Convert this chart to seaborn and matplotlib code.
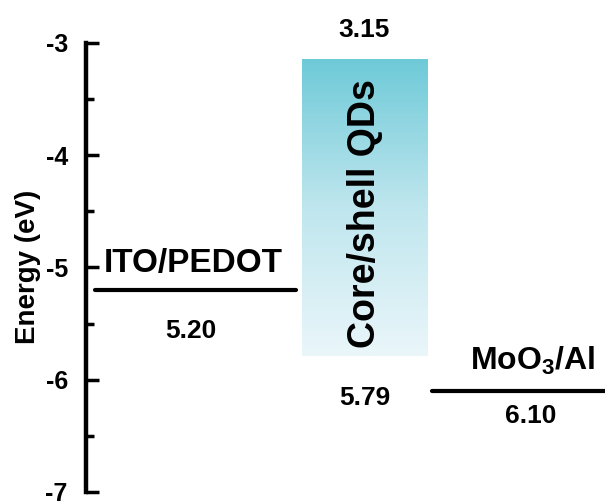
import numpy as np
import pandas as pd
import seaborn as sns
import matplotlib.pyplot as plt
from matplotlib.colors import LinearSegmentedColormap

# energy levels (eV, below vacuum)
electrodes = ["ITO/PEDOT", "MoO$_3$/Al"]
electrode_levels = [5.20, 6.10]
qd_name = "Core/shell QDs"
qd_cb = 3.15
qd_vb = 5.79
yticks = [-3, -4, -5, -6, -7]

sns.set_style("ticks")
plt.rcParams["font.family"] = ["Liberation Sans", "DejaVu Sans"]
plt.rcParams["font.weight"] = "bold"
plt.rcParams["text.color"] = "black"
plt.rcParams["mathtext.fontset"] = "custom"
plt.rcParams["mathtext.default"] = "bf"
plt.rcParams["mathtext.bf"] = "Liberation Sans:bold"
plt.rcParams["mathtext.rm"] = "Liberation Sans:bold"

fig = plt.figure(figsize=(6.05, 5.04), dpi=100)
ax = fig.add_axes([0.142, 0.024, 0.858, 0.891])

# electrode levels as flat segments
seg_x = [(0.017, 0.405), (0.667, 1.0)]
rows = []
for name, lvl, (x0, x1) in zip(electrodes, electrode_levels, seg_x):
    rows.append({"name": name, "x": x0, "E": -lvl})
    rows.append({"name": name, "x": x1, "E": -lvl})
df = pd.DataFrame(rows)
sns.lineplot(data=df, x="x", y="E", units="name", estimator=None,
             color="black", lw=3, ax=ax, legend=False)

# QD gradient box
cmap = LinearSegmentedColormap.from_list("qd", ["#6ecad8", "#bfe6ee", "#eaf6fa"])
grad = np.linspace(0, 1, 256).reshape(-1, 1)
qx0, qx1 = 0.416, 0.657
ax.imshow(grad, cmap=cmap, aspect="auto", extent=[qx0, qx1, -qd_vb, -qd_cb],
          origin="upper", zorder=0)

xc = (qx0 + qx1) / 2
ax.text(xc, -qd_cb + 0.2, f"{qd_cb:.2f}", ha="center", va="baseline",
        fontsize=19, fontweight="bold", clip_on=False)
ax.text(xc, -qd_vb - 0.27, f"{qd_vb:.2f}", ha="center", va="top",
        fontsize=19, fontweight="bold")
ax.text(xc + 0.002, -4.52, qd_name, rotation=90, ha="center", va="center",
        fontsize=27, fontweight="bold")

name_dy = [0.16, 0.19]
num_dy = [0.26, 0.12]
name_x = [0.206, 0.86]
name_fs = [24, 23]
for name, lvl, nx, ndy, vdy, fs in zip(electrodes, electrode_levels, name_x,
                                       name_dy, num_dy, name_fs):
    ax.text(nx, -lvl + ndy, name, ha="center", va="baseline", fontsize=fs, fontweight="bold")
    ax.text(nx - 0.004, -lvl - vdy, f"{lvl:.2f}", ha="center", va="top",
            fontsize=19, fontweight="bold")

ax.set_xlim(0, 1)
ax.set_ylim(-7, -3)
ax.set_yticks(yticks)
ax.set_yticklabels([str(t) for t in yticks], fontsize=18, fontweight="bold")
ax.set_yticks(np.arange(-6.5, -3, 1), minor=True)
ax.tick_params(axis="y", which="major", direction="in", length=9, width=2.5, pad=13,
               color="black", labelcolor="black")
ax.tick_params(axis="y", which="minor", direction="in", length=6, width=2.5, color="black")
ax.set_xticks([])
ax.set_xlabel("")
ax.set_ylabel("Energy (eV)", fontsize=20, fontweight="bold", labelpad=3, color="black")
for s in ["top", "right", "bottom"]:
    ax.spines[s].set_visible(False)
ax.spines["left"].set_linewidth(3.2)
ax.spines["left"].set_color("black")
ax.patch.set_alpha(0)

fig.savefig("out.png", dpi=100)
